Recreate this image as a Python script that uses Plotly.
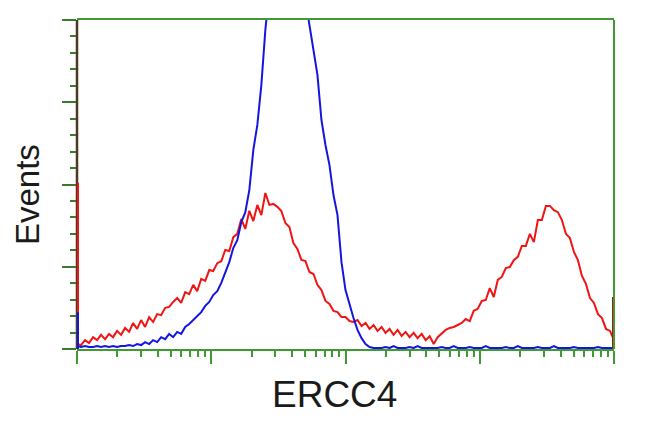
import numpy as np
import plotly.graph_objects as go

# Log-spaced channels from 10^0 to 10^4 (135 bins)
n_bins = 135
channels = 10 ** (np.arange(n_bins) * 4.0 / (n_bins - 1))

# Red histogram (ERCC4-stained), events as % of y-axis full scale
red_events = [
    1.5, 1.2, 2.7, 1.8, 3.6, 2.7, 4.3, 3.0, 4.6, 3.6,
    5.5, 4.3, 6.4, 5.2, 7.9, 6.1, 8.8, 6.7, 9.7, 8.2,
    10.6, 10.3, 12.5, 12.8, 14.3, 15.5, 14.0, 17.3, 16.7, 19.5,
    17.6, 21.3, 20.7, 24.0, 23.7, 26.1, 26.7, 30.1, 29.8, 34.0,
    35.0, 39.5, 36.5, 42.0, 38.9, 43.8, 40.7, 47.4, 43.8, 44.1,
    43.2, 41.9, 38.3, 37.1, 32.2, 30.4, 27.1, 26.7, 23.4, 22.8,
    19.5, 17.9, 14.6, 13.7, 11.6, 11.2, 9.7, 9.7, 8.5, 8.2,
    8.8, 7.0, 7.9, 6.1, 7.3, 5.5, 6.7, 4.9, 6.1, 4.3,
    5.8, 4.0, 5.2, 3.6, 4.9, 3.3, 4.6, 2.7, 3.9, 1.5,
    3.6, 4.6, 5.8, 6.4, 6.7, 7.3, 7.9, 9.1, 8.5, 11.6,
    12.2, 14.6, 14.9, 18.5, 15.8, 21.0, 21.9, 24.6, 24.9, 27.0,
    28.0, 31.3, 31.3, 35.0, 32.5, 39.2, 39.2, 43.5, 43.5, 42.2,
    41.6, 39.2, 35.0, 33.7, 29.5, 27.0, 22.2, 19.8, 15.5, 14.0,
    10.6, 9.4, 6.1, 5.5, 2.7,
]

# Blue histogram (control)
blue_events = [
    0.9, 0.6, 0.9, 0.6, 0.6, 0.9, 0.6, 0.9, 0.6, 0.9,
    0.6, 0.9, 0.9, 1.2, 0.9, 1.5, 1.2, 2.1, 1.5, 2.7,
    2.1, 3.6, 3.0, 4.6, 3.6, 5.2, 4.6, 6.7, 7.6, 8.8,
    10.0, 11.2, 13.1, 14.3, 16.4, 17.6, 20.1, 23.4, 26.4, 30.7,
    33.1, 38.6, 41.6, 48.3, 60.5, 68.1, 80.2, 97.0, 112.2, 121.3,
    127.4, 130.4, 131.9, 130.4, 127.4, 121.3, 113.7, 106.1, 98.5, 90.9,
    83.3, 69.6, 62.0, 55.9, 46.8, 40.7, 26.4, 17.9, 13.4, 9.4,
    5.8, 3.3, 1.5, 0.6, 0.3, 0.3, 0.3, 0.6, 0.3, 0.9,
    0.3, 0.3, 0.3, 0.6, 0.3, 0.9, 0.3, 0.3, 0.3, 0.3,
    0.3, 0.6, 0.3, 0.3, 0.9, 0.3, 0.3, 0.3, 0.6, 0.3,
    0.3, 0.3, 0.9, 0.3, 0.3, 0.3, 0.3, 0.6, 0.3, 0.3,
    0.9, 0.3, 0.3, 0.3, 0.3, 0.6, 0.3, 0.3, 0.3, 0.9,
    0.3, 0.3, 0.3, 0.3, 0.6, 0.3, 0.3, 0.3, 0.3, 0.3,
    0.6, 0.3, 0.3, 0.3, 0.3,
]

# Off-scale events piled in the first / last channel
edge_channels = [1, 10000]
red_edge_events = [50.5, 15.8]
blue_edge_events = [11.2, 0.0]

y_major = [0, 25, 50, 75, 100]
y_minor = [v for v in range(0, 101, 5) if v % 25 != 0]
x_major = [1, 10, 100, 1000, 10000]
x_minor = [m * 10 ** d for d in range(4) for m in range(2, 10)]

GREEN = "#3f9a33"
RED = "#f01515"
BLUE = "#1515e0"

fig = go.Figure()

fig.add_trace(go.Scatter(x=channels, y=red_events, mode="lines",
                         line=dict(color=RED, width=2), hoverinfo="skip"))
fig.add_trace(go.Scatter(x=channels, y=blue_events, mode="lines",
                         line=dict(color=BLUE, width=2), hoverinfo="skip"))

# edge spikes
fig.add_trace(go.Scatter(x=[edge_channels[0], edge_channels[0]], y=[0, red_edge_events[0]],
                         mode="lines", line=dict(color=RED, width=4), hoverinfo="skip"))
fig.add_trace(go.Scatter(x=[edge_channels[0], edge_channels[0]], y=[0, blue_edge_events[0]],
                         mode="lines", line=dict(color=BLUE, width=4), hoverinfo="skip"))
fig.add_trace(go.Scatter(x=[edge_channels[1], edge_channels[1]], y=[0, red_edge_events[1]],
                         mode="lines", line=dict(color="#a01818", width=4), hoverinfo="skip"))

fig.update_layout(
    width=650, height=432,
    margin=dict(l=69, r=44, t=12, b=91, autoexpand=False),
    paper_bgcolor="white", plot_bgcolor="white",
    showlegend=False,
    font=dict(family="Liberation Sans, Arial, sans-serif", color="#1a1a1a"),
    xaxis=dict(
        type="log", range=[0, 4], showgrid=False, zeroline=False,
        showline=True, linecolor=GREEN, linewidth=2, mirror=True,
        ticks="outside", tickmode="array", tickvals=x_major, ticklen=13,
        tickwidth=2, tickcolor=GREEN, showticklabels=False,
        minor=dict(tickmode="array", tickvals=x_minor, ticks="outside",
                   ticklen=6, tickwidth=2, tickcolor=GREEN, showgrid=False),
    ),
    yaxis=dict(
        range=[0, 100], showgrid=False, zeroline=False,
        showline=False,
        ticks="outside", tickmode="array", tickvals=y_major, ticklen=14,
        tickwidth=2, tickcolor="#3a7a30", showticklabels=False,
        minor=dict(tickmode="array", tickvals=y_minor, ticks="outside",
                   ticklen=6, tickwidth=2, tickcolor="#3a7a30", showgrid=False),
    ),
    shapes=[
        dict(type="line", xref="paper", yref="paper", x0=0, x1=0, y0=0, y1=1,
             line=dict(color="#4a3a1e", width=2.5), layer="below"),
        dict(type="line", xref="paper", yref="paper", x0=1, x1=1, y0=0, y1=1,
             line=dict(color=GREEN, width=2), layer="above"),
    ],
    annotations=[
        dict(text="ERCC4", xref="paper", yref="paper", x=0.4804, y=-0.1368,
             showarrow=False, font=dict(size=37, color="#1a1a1a"),
             xanchor="center", yanchor="middle"),
        dict(text="Events", xref="paper", yref="paper", x=-0.0931, y=0.468,
             showarrow=False, textangle=-90, font=dict(size=33, color="#1a1a1a"),
             xanchor="center", yanchor="middle"),
    ],
)

fig.write_html("out.html")
